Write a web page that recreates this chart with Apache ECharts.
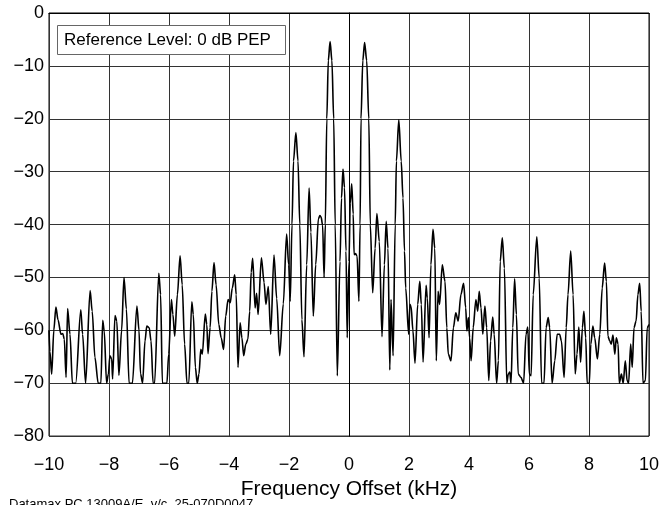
<!DOCTYPE html>
<html>
<head>
<meta charset="utf-8">
<script src="https://cdn.jsdelivr.net/npm/echarts@6/dist/echarts.min.js"></script>
<style>
html,body{margin:0;padding:0;background:#fff;}
#c{width:664px;height:505px;}
</style>
</head>
<body>
<div id="c"></div>
<script>
var xTicks = [-10,-8,-6,-4,-2,0,2,4,6,8,10];
var yTicks = [0,-10,-20,-30,-40,-50,-60,-70,-80];
var refLabel = 'Reference Level: 0 dB PEP';
var xName = 'Frequency Offset (kHz)';
var footNote = 'Datamax PC 13009A/E  v/c  25-070D0047';

var freqs = [
-10,-9.97,-9.91,-9.84,-9.77,-9.7,-9.6,-9.54,-9.49,-9.43,-9.38,-9.3,-9.22,-9.11,-8.94,-8.88,-8.78,-8.63,-8.56,-8.47,
-8.36,-8.27,-8.21,-8.16,-8.08,-8.02,-7.97,-7.91,-7.88,-7.8,-7.74,-7.67,-7.58,-7.5,-7.42,-7.33,-7.22,-7.07,-7.0,-6.95,
-6.88,-6.8,-6.74,-6.66,-6.6,-6.53,-6.48,-6.34,-6.28,-6.22,-6.07,-6.01,-5.92,-5.87,-5.81,-5.72,-5.63,-5.56,-5.48,-5.4,
-5.34,-5.24,-5.19,-5.12,-5.06,-5.0,-4.94,-4.89,-4.79,-4.74,-4.7,-4.63,-4.57,-4.5,-4.43,-4.34,-4.26,-4.18,-4.11,-4.03,
-3.96,-3.89,-3.81,-3.76,-3.7,-3.63,-3.57,-3.51,-3.44,-3.37,-3.31,-3.26,-3.21,-3.13,-3.08,-3.03,-2.92,-2.83,-2.77,-2.69,
-2.61,-2.5,-2.41,-2.31,-2.19,-2.08,-2.01,-1.96,-1.9,-1.85,-1.77,-1.7,-1.64,-1.57,-1.5,-1.41,-1.33,-1.27,-1.19,-1.11,
-1.02,-0.97,-0.93,-0.88,-0.83,-0.79,-0.74,-0.69,-0.63,-0.57,-0.51,-0.46,-0.39,-0.3,-0.25,-0.2,-0.15,-0.1,-0.06,0.0,
0.04,0.09,0.14,0.17,0.22,0.27,0.33,0.37,0.4,0.46,0.52,0.59,0.66,0.71,0.79,0.87,0.93,1.01,1.1,1.18,
1.24,1.3,1.36,1.4,1.47,1.54,1.58,1.66,1.74,1.8,1.85,1.89,1.99,2.03,2.07,2.13,2.2,2.29,2.36,2.41,
2.47,2.57,2.61,2.67,2.73,2.8,2.86,2.91,2.97,3.02,3.11,3.2,3.26,3.31,3.4,3.48,3.56,3.64,3.73,3.82,
3.89,3.93,3.98,4.02,4.07,4.14,4.23,4.29,4.34,4.4,4.46,4.53,4.59,4.66,4.72,4.79,4.84,4.92,4.98,5.04,
5.11,5.18,5.26,5.31,5.36,5.4,5.46,5.52,5.58,5.64,5.73,5.82,5.9,5.96,6.01,6.07,6.14,6.26,6.34,6.42,
6.5,6.57,6.64,6.69,6.77,6.86,6.94,7.02,7.08,7.17,7.24,7.3,7.39,7.47,7.54,7.6,7.66,7.72,7.78,7.83,
7.89,7.94,8.01,8.06,8.13,8.19,8.28,8.36,8.44,8.52,8.58,8.63,8.69,8.74,8.8,8.86,8.91,8.97,9.01,9.08,
9.14,9.21,9.27,9.32,9.39,9.44,9.5,9.57,9.63,9.69,9.74,9.8,9.88,9.94,10
];
var levels = [
-60,-64,-68.3,-60,-55.6,-58,-60.75,-60.6,-61.7,-68.9,-55.9,-60.75,-70,-70,-56.1,-60.75,-70,-52.5,-56.4,-65.1,
-70,-70,-58.1,-60.1,-70,-68.25,-64.8,-65.4,-69.2,-57.2,-58.25,-68.5,-60,-50,-56,-70,-70,-55.4,-60,-68.2,
-70,-62,-59.2,-59.5,-62,-70,-70,-49.2,-53.25,-70,-70,-64.5,-54.2,-57,-61.1,-53.25,-45.9,-51.4,-62.6,-70,
-70,-54.6,-57,-67,-70,-68.25,-63.6,-64.5,-56.9,-58.9,-64.4,-59.5,-52.6,-47.2,-51.4,-58.9,-61.4,-63.6,-57.3,-54.2,
-54.8,-52,-49.5,-53.25,-67,-58.6,-61.4,-64.8,-62.6,-61.7,-56.4,-49,-46.4,-55.75,-53,-57,-46.3,-51,-55.1,-51.7,
-60.75,-45.75,-54,-64.8,-55,-41.8,-47.6,-54.5,-40,-28,-22.6,-28,-40,-58,-65,-47.6,-33.1,-41.4,-57.3,-47.6,
-38.9,-38.3,-38.6,-40.1,-50,-40,-20,-9,-5.4,-9,-20,-40,-68.6,-47,-35,-29.5,-33,-45,-61.4,-47,
-36,-32.3,-38,-45.7,-45.5,-46,-54.5,-40,-20,-9,-5.6,-9,-20,-40,-52.9,-44.5,-37.9,-43.2,-61.2,-47.6,
-39.4,-44.5,-67.5,-54.2,-64.8,-40,-28,-20.2,-28,-35,-45,-52,-60.75,-55.1,-55.5,-60,-66.2,-55.1,-50.75,-55.1,
-66,-51.5,-53.9,-61.4,-47.6,-40.9,-44.5,-65.75,-52.6,-55.1,-47.6,-50.75,-59.5,-64.5,-65.75,-59.5,-56.7,-58.25,-53.25,-51.1,
-55.75,-60.1,-57.6,-61.4,-65.75,-59.5,-54.2,-56.4,-52.6,-55.75,-60.75,-55.4,-59.5,-69.5,-62,-57.5,-60.75,-70,-65.75,-47,
-42.5,-48.25,-70,-68.25,-67.9,-70,-59.5,-50.25,-57,-68.25,-68.9,-70,-60.75,-59.4,-68.25,-68.6,-53.25,-42.3,-50.1,-70,
-70,-59.5,-57.6,-59.5,-70,-65.75,-60.75,-60.75,-62,-68.9,-59.5,-53.25,-45,-53.25,-68.25,-64.5,-59.4,-66,-59.5,-56.4,
-61.4,-70,-70,-62.6,-59.2,-61.4,-65.4,-60.75,-52,-47.3,-50.75,-61.1,-62,-62.6,-60.9,-64.5,-61.4,-62.6,-70,-68.25,
-70,-65.75,-69.5,-70,-62.6,-67,-59.5,-58.25,-53.25,-51.1,-56.4,-70,-69.5,-59.5,-58.9
];

function fmt(v){ return v < 0 ? '\u2212' + Math.abs(v) : String(v); }

var data = freqs.map(function(f,i){ return [f, levels[i]]; });
var chart = echarts.init(document.getElementById('c'), null, {renderer:'canvas'});
var font = 'Liberation Sans, Arial, sans-serif';
chart.setOption({
  animation:false,
  backgroundColor:'#fff',
  textStyle:{fontFamily:font},
  grid:{left:49, right:15, top:13, bottom:66, show:true, borderColor:'#000', borderWidth:1},
  title:{
    text:refLabel, left:57, top:25,
    borderColor:'#666', borderWidth:1, backgroundColor:'#fff',
    padding:[7,15,6,7],
    textStyle:{fontFamily:font, fontSize:17, fontWeight:'normal', color:'#000'}
  },
  xAxis:{
    type:'value', min:xTicks[0], max:xTicks[xTicks.length-1], interval:2,
    name:xName, nameLocation:'middle', nameGap:38,
    nameTextStyle:{fontFamily:font, fontSize:21, color:'#000'},
    axisLine:{show:true, lineStyle:{color:'#000'}},
    axisTick:{show:false},
    axisLabel:{fontFamily:font, fontSize:18, color:'#000', margin:20, formatter:fmt},
    splitLine:{show:true, lineStyle:{color:'#333', width:1}}
  },
  yAxis:{
    type:'value', min:yTicks[yTicks.length-1], max:yTicks[0], interval:10,
    axisLine:{show:true, lineStyle:{color:'#000'}},
    axisTick:{show:false},
    axisLabel:{fontFamily:font, fontSize:18, color:'#000', margin:5, formatter:fmt},
    splitLine:{show:true, lineStyle:{color:'#333', width:1}}
  },
  graphic:[{
    type:'text', left:9, top:498,
    style:{text:footNote, font:'13px Liberation Sans, Arial, sans-serif', fill:'#000'}
  }],
  series:[{
    type:'line', data:data, showSymbol:false, symbol:'none',
    smooth:0.3, smoothMonotone:'x',
    lineStyle:{color:'#000', width:1.6},
    clip:true
  }]
});
</script>
</body>
</html>
